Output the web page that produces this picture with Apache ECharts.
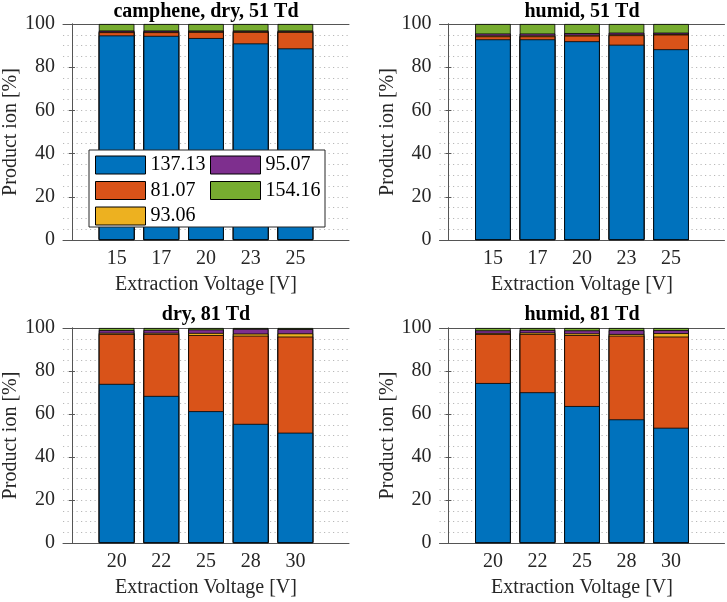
<!DOCTYPE html>
<html>
<head>
<meta charset="utf-8">
<script src="https://cdn.jsdelivr.net/npm/echarts@6/dist/echarts.min.js"></script>
<style>
html,body{margin:0;padding:0;background:#fff;}
#chart{width:727px;height:602px;}
</style>
</head>
<body>
<div id="chart"></div>
<script>
// ---- data ----
const ionNames = ['137.13', '81.07', '93.06', '95.07', '154.16'];
const ionColors = ['#0072BD', '#D95319', '#EDB120', '#7E2F8E', '#77AC30'];

const voltages51 = ['15', '17', '20', '23', '25'];
const voltages81 = ['20', '22', '25', '28', '30'];

const panelTitles = ['camphene, dry, 51 Td', 'humid, 51 Td', 'dry, 81 Td', 'humid, 81 Td'];

// dry, 51 Td
const dry51_137 = [94.7, 94.5, 93.5, 91.0, 88.7];
const dry51_81  = [1.5, 1.7, 2.8, 5.3, 7.6];
const dry51_93  = [0.3, 0.3, 0.3, 0.3, 0.3];
const dry51_95  = [0.5, 0.5, 0.4, 0.4, 0.4];
const dry51_154 = [3.0, 3.0, 3.0, 3.0, 3.0];

// humid, 51 Td
const humid51_137 = [92.9, 92.9, 92.0, 90.4, 88.3];
const humid51_81  = [1.4, 1.4, 2.6, 4.4, 6.8];
const humid51_93  = [0.4, 0.4, 0.4, 0.4, 0.3];
const humid51_95  = [0.9, 0.9, 0.8, 0.8, 0.6];
const humid51_154 = [4.4, 4.4, 4.2, 4.0, 4.0];

// dry, 81 Td
const dry81_137 = [74.0, 68.4, 61.3, 55.4, 51.3];
const dry81_81  = [23.2, 28.8, 35.4, 41.0, 44.7];
const dry81_93  = [0.6, 0.6, 1.0, 1.0, 1.5];
const dry81_95  = [1.2, 1.3, 1.6, 2.2, 2.0];
const dry81_154 = [1.0, 0.9, 0.7, 0.4, 0.5];

// humid, 81 Td
const humid81_137 = [74.4, 70.1, 63.7, 57.5, 53.6];
const humid81_81  = [22.8, 27.1, 33.0, 38.9, 42.4];
const humid81_93  = [0.5, 0.7, 0.8, 0.8, 1.6];
const humid81_95  = [1.2, 1.2, 1.4, 1.8, 1.4];
const humid81_154 = [1.1, 0.9, 1.1, 1.0, 1.0];

// ---- build ----
const panels = [
  { cats: voltages51, ions: [dry51_137, dry51_81, dry51_93, dry51_95, dry51_154] },
  { cats: voltages51, ions: [humid51_137, humid51_81, humid51_93, humid51_95, humid51_154] },
  { cats: voltages81, ions: [dry81_137, dry81_81, dry81_93, dry81_95, dry81_154] },
  { cats: voltages81, ions: [humid81_137, humid81_81, humid81_93, humid81_95, humid81_154] }
];

const FONT = '"Liberation Serif"';
const TXT = '#262626';
const AX = '#555555';

const gridPos = [
  { left: 63, top: 24, width: 286, height: 216 },
  { left: 439.5, top: 24, width: 285, height: 216 },
  { left: 63, top: 328, width: 286, height: 215 },
  { left: 439.5, top: 328, width: 285, height: 215 }
];
const titleX = [206, 582, 206, 582];
const titleY = [1.5, 1.5, 305, 305];

const grids = [], xAxes = [], yAxes = [], series = [], titles = [];
const pos = [1, 2, 3, 4, 5];

panels.forEach((p, g) => {
  grids.push(Object.assign({ containLabel: false }, gridPos[g]));
  titles.push({
    text: panelTitles[g], left: titleX[g], top: titleY[g], textAlign: 'center', padding: 0,
    textStyle: { fontFamily: FONT, fontSize: 20, fontWeight: 'bold', color: '#000' }
  });
  const cats = p.cats;
  xAxes.push({
    type: 'value', gridIndex: g, min: -0.2, max: 6.2, position: 'bottom',
    axisLine: { show: true, onZero: false, lineStyle: { color: AX, width: 1 } },
    axisTick: { show: true, inside: true, length: 3, customValues: pos, lineStyle: { color: AX } },
    axisLabel: {
      customValues: pos, margin: 9, fontFamily: FONT, fontSize: 20, color: TXT,
      formatter: v => cats[Math.round(v) - 1]
    },
    splitLine: { show: false },
    name: 'Extraction Voltage [V]', nameLocation: 'middle', nameGap: 35,
    nameTextStyle: { fontFamily: FONT, fontSize: 20, color: TXT }
  });
  xAxes.push({
    type: 'value', gridIndex: g, min: -0.2, max: 6.2, position: 'top',
    axisLine: { show: true, onZero: false, lineStyle: { color: AX, width: 1 } },
    axisTick: { show: true, inside: true, length: 3, customValues: pos, lineStyle: { color: AX } },
    axisLabel: { show: false },
    splitLine: { show: false }
  });
  yAxes.push({
    type: 'value', gridIndex: g, min: 0, max: 100, interval: 20, position: 'left',
    axisLine: { show: true, lineStyle: { color: AX, width: 1 } },
    axisTick: { show: true, inside: true, length: 3, lineStyle: { color: AX } },
    axisLabel: { margin: 8, fontFamily: FONT, fontSize: 20, color: TXT },
    splitLine: { show: true, lineStyle: { color: '#b8b8b8', width: 1, type: [1.2, 3.3] } },
    minorTick: { show: false, splitNumber: 4 },
    minorSplitLine: { show: true, lineStyle: { color: '#b8b8b8', width: 1, type: [1.2, 3.3] } },
    name: 'Product ion [%]', nameLocation: 'middle', nameGap: 40,
    nameTextStyle: { fontFamily: FONT, fontSize: 20, color: TXT }
  });
  yAxes.push({
    type: 'value', gridIndex: g, min: 0, max: 100, interval: 20, position: 'right',
    axisLine: { show: true, lineStyle: { color: AX, width: 1 } },
    axisTick: { show: true, inside: true, length: 3, lineStyle: { color: AX } },
    axisLabel: { show: false },
    splitLine: { show: false }
  });

  // cumulative tops, drawn top-most ion first so lower segments overlay it
  const cum = p.ions.map(() => []);
  for (let i = 0; i < cats.length; i++) {
    let s = 0;
    for (let k = 0; k < p.ions.length; k++) { s += p.ions[k][i]; cum[k][i] = s; }
  }
  for (let k = p.ions.length - 1; k >= 0; k--) {
    series.push({
      type: 'bar', name: ionNames[k], xAxisIndex: 2 * g, yAxisIndex: 2 * g,
      barWidth: 35.6, barGap: '-100%',
      itemStyle: { color: ionColors[k], borderColor: '#000', borderWidth: 0.8 },
      emphasis: { disabled: true },
      data: cum[k].map((v, i) => [pos[i], v])
    });
  }
});

const legendBase = {
  orient: 'vertical', top: 155, padding: 0, itemGap: 5.5, itemWidth: 50, itemHeight: 18,
  icon: 'rect', z: 60, selectedMode: false,
  itemStyle: { borderColor: '#000', borderWidth: 1 },
  textStyle: { fontFamily: FONT, fontSize: 20, color: '#000' }
};

const option = {
  backgroundColor: '#fff',
  animation: false,
  textStyle: { fontFamily: FONT },
  title: titles,
  grid: grids,
  xAxis: xAxes,
  yAxis: yAxes,
  legend: [
    Object.assign({}, legendBase, { left: 95, data: [ionNames[0], ionNames[1], ionNames[2]] }),
    Object.assign({}, legendBase, { left: 210, data: [ionNames[3], ionNames[4]] })
  ],
  graphic: [{
    type: 'rect', z: 50,
    shape: { x: 89, y: 150, width: 236, height: 77 },
    style: { fill: '#fff', stroke: '#262626', lineWidth: 1 }
  }],
  series: series
};

const chart = echarts.init(document.getElementById('chart'), null, { renderer: 'canvas' });
chart.setOption(option);
</script>
</body>
</html>
